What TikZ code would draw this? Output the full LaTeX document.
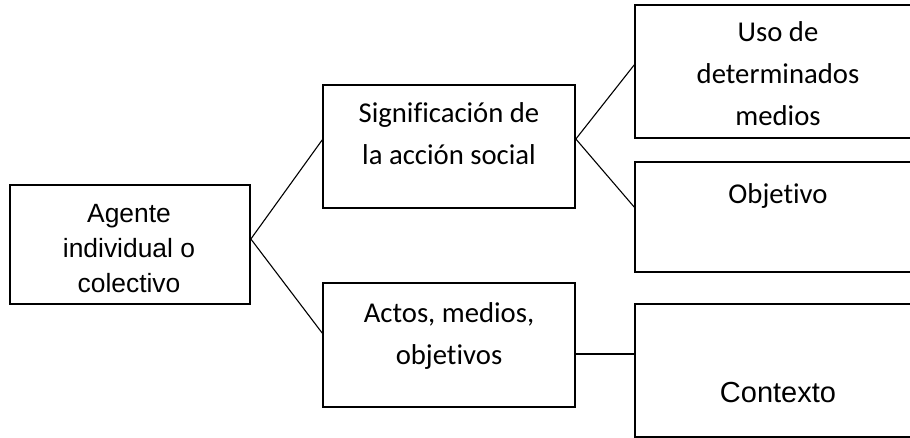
\documentclass[tikz,border=0pt]{standalone}
\usepackage{fontspec}
\newfontfamily\arialfont{Liberation Sans}
\newfontfamily\calibrifont[Ligatures=NoCommon]{Carlito}
\usetikzlibrary{positioning}
\usetikzlibrary{calc}
\tikzstyle{box}=[draw, rectangle, line width=1.7pt, inner sep=0pt]
\tikzstyle{arialtext}=[align=center, font=\arialfont\fontsize{26.4}{35}\selectfont, inner sep=0pt]
\tikzstyle{calibritext}=[align=center, font=\calibrifont\fontsize{28.7}{42}\selectfont, inner sep=0pt]
\tikzstyle{link}=[line width=1.1pt]

\begin{document}
\begin{tikzpicture}[x=1pt, y=-1pt]

  \useasboundingbox (0,0) rectangle (910,438);
  \clip (0,0) rectangle (910,438);

  % boxes
  \node[box, minimum width=240, minimum height=119] (agente) at (130,244.5) {};
  \node[box, minimum width=252, minimum height=123] (signif) at (449,146.5) {};
  \node[box, minimum width=252, minimum height=124] (actos) at (449,345) {};
  \node[box, minimum width=286, minimum height=133] (uso) at (778,71.5) {};
  \node[box, minimum width=286, minimum height=110] (objetivo) at (778,217) {};
  \node[box, minimum width=286, minimum height=133] (contexto) at (778,370.5) {};

  % texts
  \node[arialtext] (agentetxt) at (129,248.5) {Agente\\individual o\\colectivo};
  \node[calibritext] (signiftxt) at (449,134) {Significación de\\la acción social};
  \node[calibritext] (actostxt) at (449,336) {Actos, medios,\\objetivos};
  \node[calibritext] (usotxt) at (778,73.5) {Uso de\\determinados\\medios};
  \node[calibritext] (objetivotxt) at (778,195.5) {Objetivo};
  \node[arialtext, font=\arialfont\fontsize{29}{35}\selectfont] (contextotxt) at (778,393) {Contexto};

  % links
  \foreach \source/\sshift/\dest/\dshift in {agente/5.5/signif/6.5, agente/5.5/actos/12, signif/7.5/uso/6.5, signif/7.5/objetivo/10, actos/-9/contexto/16.5}
    \draw[link] ([yshift=\sshift]\source.east) -- ([yshift=\dshift]\dest.west);

\end{tikzpicture}
\end{document}
